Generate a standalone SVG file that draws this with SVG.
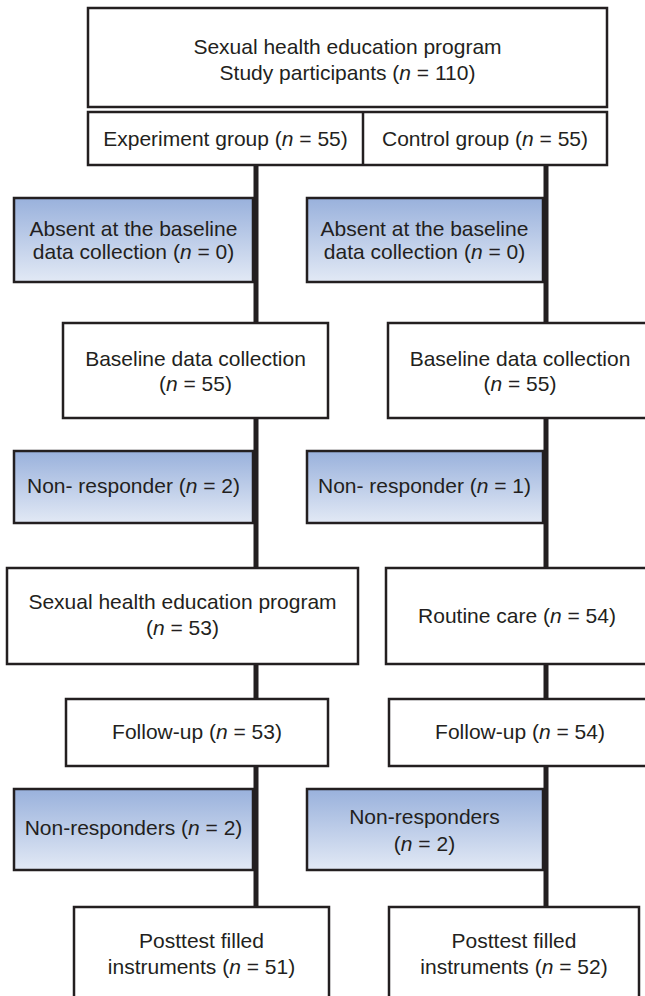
<svg xmlns="http://www.w3.org/2000/svg" width="645" height="996" viewBox="0 0 645 996">
<defs>
<linearGradient id="blue" x1="0" y1="0" x2="0" y2="1">
<stop offset="0" stop-color="#99b1dc"/>
<stop offset="1" stop-color="#e2e9f5"/>
</linearGradient>
<style>
.box{fill:#fff;stroke:#231f20;stroke-width:2.5}
.bl{fill:url(#blue);stroke:#231f20;stroke-width:2.5}
.ln{stroke:#231f20;stroke-width:5;fill:none}
text{font-family:"Liberation Sans",Arial,sans-serif;font-size:21px;fill:#231f20;text-anchor:middle}
.i{font-style:italic}
</style>
</defs>
<rect width="645" height="996" fill="#fff"/>
<g id="connectors">
<line class="ln" x1="256" y1="165" x2="256" y2="908"/>
<line class="ln" x1="546" y1="165" x2="546" y2="908"/>
</g>
<g id="top">
<rect class="box" x="88" y="8" width="519" height="99"/>
<text x="347.5" y="54">Sexual health education program</text>
<text x="347.5" y="80">Study participants (<tspan class="i">n</tspan> = 110)</text>
</g>
<g id="groups">
<rect class="box" x="88" y="112" width="519" height="53"/>
<line x1="363" y1="112" x2="363" y2="165" stroke="#231f20" stroke-width="2.5"/>
<text x="225.5" y="146">Experiment group (<tspan class="i">n</tspan> = 55)</text>
<text x="485" y="146">Control group (<tspan class="i">n</tspan> = 55)</text>
</g>
<g id="absent-exp">
<rect class="bl" x="14" y="198" width="239" height="84"/>
<text x="133.5" y="236">Absent at the baseline</text>
<text x="133.5" y="259">data collection (<tspan class="i">n</tspan> = 0)</text>
</g>
<g id="absent-ctl">
<rect class="bl" x="307" y="198" width="236" height="84"/>
<text x="424.5" y="236">Absent at the baseline</text>
<text x="424.5" y="259">data collection (<tspan class="i">n</tspan> = 0)</text>
</g>
<g id="baseline-exp">
<rect class="box" x="63" y="323" width="265" height="95"/>
<text x="195.5" y="366">Baseline data collection</text>
<text x="195.5" y="391">(<tspan class="i">n</tspan> = 55)</text>
</g>
<g id="baseline-ctl">
<rect class="box" x="388" y="323" width="270" height="95"/>
<text x="520" y="366">Baseline data collection</text>
<text x="520" y="391">(<tspan class="i">n</tspan> = 55)</text>
</g>
<g id="nonresp1-exp">
<rect class="bl" x="14" y="451" width="239" height="72"/>
<text x="133.5" y="493">Non- responder (<tspan class="i">n</tspan> = 2)</text>
</g>
<g id="nonresp1-ctl">
<rect class="bl" x="307" y="451" width="236" height="72"/>
<text x="424.5" y="493">Non- responder (<tspan class="i">n</tspan> = 1)</text>
</g>
<g id="program-exp">
<rect class="box" x="7" y="568" width="351" height="96"/>
<text x="182.5" y="609">Sexual health education program</text>
<text x="182.5" y="635">(<tspan class="i">n</tspan> = 53)</text>
</g>
<g id="routine-ctl">
<rect class="box" x="386" y="568" width="272" height="96"/>
<text x="517" y="623">Routine care (<tspan class="i">n</tspan> = 54)</text>
</g>
<g id="followup-exp">
<rect class="box" x="66" y="699" width="262" height="67"/>
<text x="197" y="739">Follow-up (<tspan class="i">n</tspan> = 53)</text>
</g>
<g id="followup-ctl">
<rect class="box" x="389" y="699" width="269" height="67"/>
<text x="520" y="739">Follow-up (<tspan class="i">n</tspan> = 54)</text>
</g>
<g id="nonresp2-exp">
<rect class="bl" x="14" y="789" width="239" height="81"/>
<text x="133.5" y="835">Non-responders (<tspan class="i">n</tspan> = 2)</text>
</g>
<g id="nonresp2-ctl">
<rect class="bl" x="307" y="789" width="236" height="81"/>
<text x="424.5" y="824">Non-responders</text>
<text x="424.5" y="851">(<tspan class="i">n</tspan> = 2)</text>
</g>
<g id="posttest-exp">
<rect class="box" x="74" y="907" width="255" height="100"/>
<text x="201.5" y="948">Posttest filled</text>
<text x="201.5" y="974">instruments (<tspan class="i">n</tspan> = 51)</text>
</g>
<g id="posttest-ctl">
<rect class="box" x="389" y="907" width="250" height="100"/>
<text x="514" y="948">Posttest filled</text>
<text x="514" y="974">instruments (<tspan class="i">n</tspan> = 52)</text>
</g>
</svg>
